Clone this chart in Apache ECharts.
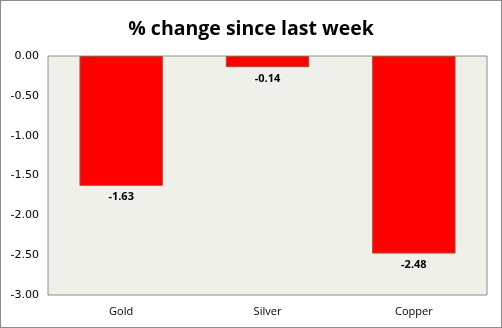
<!DOCTYPE html>
<html><head><meta charset="utf-8">
<script src="https://cdn.jsdelivr.net/npm/echarts@6/dist/echarts.min.js"></script>
<style>html,body{margin:0;padding:0;background:#fff}#c{width:502px;height:328px;box-sizing:border-box;border:1px solid #8c8c8c}</style>
</head><body><div id="c"></div>
<script>
const categories = ['Gold', 'Silver', 'Copper'];
const values = [-1.63, -0.14, -2.48];
const chart = echarts.init(document.getElementById('c'));
chart.setOption({
  animation: false,
  title: { text: '% change since last week', left: 'center', top: 13,
    textStyle: { fontFamily: 'Open Sans', fontWeight: 'bold', fontSize: 19.5, color: '#000' } },
  grid: { left: 47, right: 14, top: 55, bottom: 32, show: true, backgroundColor: '#eff0e9', borderColor: '#8c8c8c', borderWidth: 1 },
  xAxis: { type: 'category', data: categories, position: 'bottom',
    axisLine: { show: false }, axisTick: { show: false },
    axisLabel: { margin: 11, fontFamily: 'Open Sans', fontSize: 11, color: '#000' } },
  yAxis: { type: 'value', min: -3, max: 0, interval: 0.5,
    splitLine: { show: false }, axisLine: { show: false }, axisTick: { show: false },
    axisLabel: { formatter: v => v.toFixed(2), fontFamily: 'DejaVu Sans', fontSize: 11, color: '#000', margin: 9 } },
  series: [{ type: 'bar', data: values, barCategoryGap: '43%',
    itemStyle: { color: '#ff0000', borderColor: '#b5483a', borderWidth: 1 },
    label: { show: true, position: 'bottom', distance: 6, formatter: p => p.value.toFixed(2),
      fontFamily: 'Open Sans', fontWeight: 'bold', fontSize: 11, color: '#000' } }]
});
</script></body></html>
